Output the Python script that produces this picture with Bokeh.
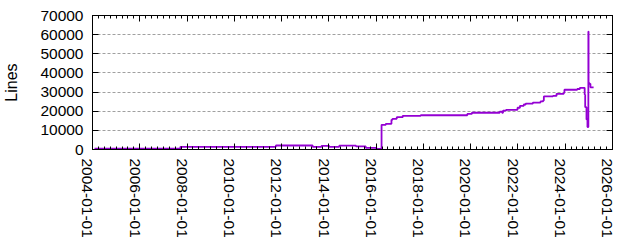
import pandas as pd
from bokeh.plotting import figure
from bokeh.models import (Range1d, FixedTicker, LinearAxis, DatetimeAxis,
                          NumeralTickFormatter, DatetimeTickFormatter)
from bokeh.embed import file_html
from bokeh.resources import INLINE

# ---- data ----
dates = [
    "2004-02-01", "2007-09-20", "2011-10-05", "2013-04-25", "2013-09-10",
    "2014-01-05", "2014-06-10", "2015-02-25", "2015-07-25", "2016-01-05",
    "2016-03-25", "2016-05-30", "2016-08-25", "2016-09-10", "2016-11-15",
    "2017-02-15", "2017-11-20", "2019-11-10", "2020-01-20", "2021-03-25",
    "2021-05-01", "2021-05-15", "2021-07-01", "2021-12-25", "2022-02-01",
    "2022-04-01", "2022-05-01", "2022-08-20", "2022-12-15", "2023-01-25",
    "2023-02-05", "2023-06-25", "2023-08-20", "2023-12-10", "2023-12-20",
    "2024-07-05", "2024-08-15", "2024-10-28", "2024-11-05", "2024-11-25",
    "2024-12-10", "2024-12-24", "2024-12-27", "2025-01-10", "2025-01-25",
    "2025-03-15",
]
lines = [
    400, 1400, 2100, 1400, 1900,
    1400, 2000, 1600, 900, 300,
    12900, 13400, 15500, 16000, 16900,
    17600, 17900, 18600, 19200, 19800,
    19200, 20300, 20700, 21800, 22800,
    23500, 24000, 24500, 25100, 25600,
    27700, 28000, 29100, 29600, 31200,
    31600, 32200, 28700, 22100, 15700,
    11700, 61600, 34800, 34300, 32500,
    32500,
]
x_tick_labels = ["2004-01-01", "2006-01-01", "2008-01-01", "2010-01-01",
                 "2012-01-01", "2014-01-01", "2016-01-01", "2018-01-01",
                 "2020-01-01", "2022-01-01", "2024-01-01", "2026-01-01"]
y_ticks = [0, 10000, 20000, 30000, 40000, 50000, 60000, 70000]
y_title = "Lines"

def ms(s):
    return pd.Timestamp(s).value / 1e6

x_dates = pd.to_datetime(dates)
major_ms = [ms(s) for s in x_tick_labels]
minor_ms = [ms(d) for d in pd.date_range("2004-01-01", "2026-01-01", freq="3MS")]

FONT = "Liberation Sans"
FS = "15.5px"

p = figure(width=640, height=240, x_axis_type="datetime",
           output_backend="svg", toolbar_location=None,
           x_range=Range1d(major_ms[0], major_ms[-1]),
           y_range=Range1d(y_ticks[0], y_ticks[-1]),
           min_border_left=91, min_border_right=28,
           min_border_top=15, min_border_bottom=91)
p.background_fill_color = "white"
p.border_fill_color = "white"
p.outline_line_color = "black"
p.outline_line_width = 1

p.step(x_dates, lines, mode="after", line_color="#9400D3", line_width=1.8)

xt = FixedTicker(ticks=major_ms, minor_ticks=minor_ms)
yt = FixedTicker(ticks=y_ticks)

xa = p.xaxis[0]
xa.ticker = xt
xa.formatter = DatetimeTickFormatter(years="%Y-%m-%d", months="%Y-%m-%d",
                                     days="%Y-%m-%d")
# a blank first line shifts each rotated label a little left of its tick,
# as in the reference
xa.major_label_overrides = {m: " \n" + l for m, l in zip(major_ms, x_tick_labels)}
xa.major_label_orientation = "vertical"
xa.major_label_text_line_height = 0.55

ya = p.yaxis[0]
ya.ticker = yt
ya.formatter = NumeralTickFormatter(format="0")
ya.axis_label = y_title
ya.axis_label_standoff = 17

for a in (xa, ya):
    a.major_tick_in = 6
    a.major_tick_out = 0
    a.minor_tick_in = 3
    a.minor_tick_out = 0
    a.major_label_standoff = 9
    a.major_label_text_font = FONT
    a.major_label_text_font_size = FS
    a.major_label_text_color = "black"
    a.axis_label_text_font = FONT
    a.axis_label_text_font_size = "16px"
    a.axis_label_text_font_style = "normal"
    a.axis_label_text_color = "black"
    a.axis_line_color = "black"
    a.major_tick_line_color = "black"
    a.minor_tick_line_color = "black"
ya.minor_tick_line_color = None

# mirrored ticks on top and right (no labels)
ta = DatetimeAxis(ticker=xt, major_label_standoff=0,
                  major_label_overrides={m: "" for m in major_ms},
                  major_tick_in=6, major_tick_out=0,
                  minor_tick_in=3, minor_tick_out=0, axis_line_color="black")
ra = LinearAxis(ticker=yt, major_label_standoff=0,
                major_label_overrides={t: "" for t in y_ticks},
                major_tick_in=6, major_tick_out=0,
                minor_tick_line_color=None, axis_line_color="black")
p.add_layout(ta, "above")
p.add_layout(ra, "right")

p.xgrid.visible = False
p.ygrid.ticker = FixedTicker(ticks=y_ticks[1:-1])
p.ygrid.grid_line_color = "#a0a0a0"
p.ygrid.grid_line_dash = "3 2"
p.ygrid.grid_line_width = 1

open("out.html", "w").write(file_html(p, INLINE))
